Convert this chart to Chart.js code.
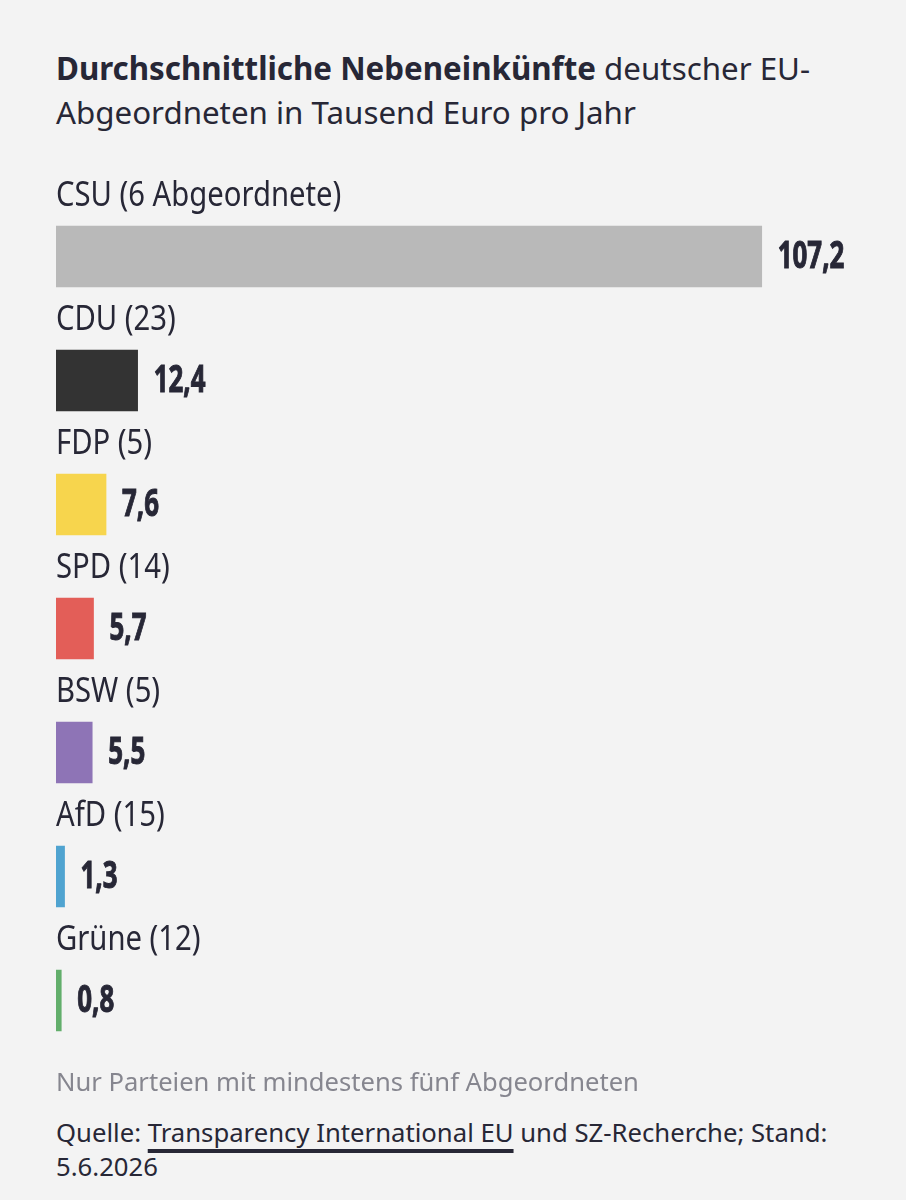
<!DOCTYPE html>
<html lang="de">
<head>
<meta charset="utf-8">
<script src="https://cdn.jsdelivr.net/npm/chart.js@4.4.1/dist/chart.umd.min.js"></script>
<style>
  html, body { margin: 0; padding: 0; background: #f3f3f3; }
  body { width: 906px; height: 1200px; position: relative; overflow: hidden; color: #272736; font-family: "Noto Sans", sans-serif; }
  #titel { position: absolute; left: 56px; top: 46px; width: 800px; font-size: 31.3px; line-height: 44px; }
  #titel b { font-weight: 700; }
  #wrap { position: absolute; left: 0; top: 150px; width: 906px; height: 920px; }
  #hinweis { position: absolute; left: 56px; top: 1065px; font-size: 25.6px; line-height: 34px; color: #86868f; white-space: nowrap; }
  #quelle { position: absolute; left: 56px; top: 1116px; width: 790px; font-size: 25.7px; line-height: 34px; }
  #quelle span { text-decoration: underline; text-decoration-thickness: 4px; text-underline-offset: 7px; }
</style>
</head>
<body>
<div id="titel"><b>Durchschnittliche Nebeneinkünfte</b> deutscher EU-Abgeordneten in Tausend Euro pro Jahr</div>
<div id="wrap"><canvas id="grafikNebeneinkuenfte"></canvas></div>
<div id="hinweis">Nur Parteien mit mindestens fünf Abgeordneten</div>
<div id="quelle">Quelle: <span>Transparency International EU</span> und SZ-Recherche; Stand: 5.6.2026</div>
<script>
var parteien = ["CSU (6 Abgeordnete)", "CDU (23)", "FDP (5)", "SPD (14)", "BSW (5)", "AfD (15)", "Grüne (12)"];
var werte = [107.2, 12.4, 7.6, 5.7, 5.5, 1.3, 0.8];
var farben = ["#b9b9b9", "#333333", "#f7d54d", "#e35e58", "#8e74b6", "#4fa3d0", "#62ae6b"];

// schmal gestauchten Text zeichnen (keine Condensed-Schrift installiert)
function schmalerText(ctx, text, x, y, faktor, kontur) {
    ctx.save();
    ctx.translate(x, y);
    ctx.scale(faktor, 1);
    ctx.fillText(text, 0, 0);
    if (kontur) {
        ctx.lineWidth = kontur;
        ctx.strokeText(text, 0, 0);
    }
    ctx.restore();
}

// Parteinamen über und Werte neben die Balken schreiben
var beschriftung = {
    id: "beschriftung",
    afterDatasetsDraw: function (chart) {
        var ctx = chart.ctx;
        var meta = chart.getDatasetMeta(0);
        ctx.save();
        ctx.fillStyle = "#272736";
        ctx.strokeStyle = "#272736";
        ctx.textAlign = "left";
        ctx.textBaseline = "alphabetic";
        meta.data.forEach(function (bar, i) {
            var oben = bar.y - bar.height / 2;
            ctx.font = '34px "Noto Sans", sans-serif';
            schmalerText(ctx, parteien[i], chart.chartArea.left, oben - 20, 0.86);
            ctx.font = 'bold 37px "Noto Sans", sans-serif';
            schmalerText(ctx, werte[i].toFixed(1).replace(".", ","), bar.x + 16, bar.y + 11, 0.7, 1);
        });
        ctx.restore();
    }
};

document.addEventListener("DOMContentLoaded", function () {
    var ctx = document.getElementById("grafikNebeneinkuenfte");
    if (!ctx) {
        console.error("Canvas nicht gefunden.");
        return;
    }
    new Chart(ctx.getContext("2d"), {
        type: "bar",
        data: {
            labels: parteien,
            datasets: [{
                data: werte,
                backgroundColor: farben,
                barThickness: 61,
                borderWidth: 0
            }]
        },
        options: {
            indexAxis: "y",
            responsive: true,
            maintainAspectRatio: false,
            animation: false,
            events: [],
            layout: {
                padding: { left: 56, right: 60, top: 44.5, bottom: 7.5 }
            },
            scales: {
                x: { min: 0, max: 120, display: false },
                y: { display: false }
            },
            plugins: {
                legend: { display: false },
                tooltip: { enabled: false }
            }
        },
        plugins: [beschriftung]
    });
});
</script>
</body>
</html>
